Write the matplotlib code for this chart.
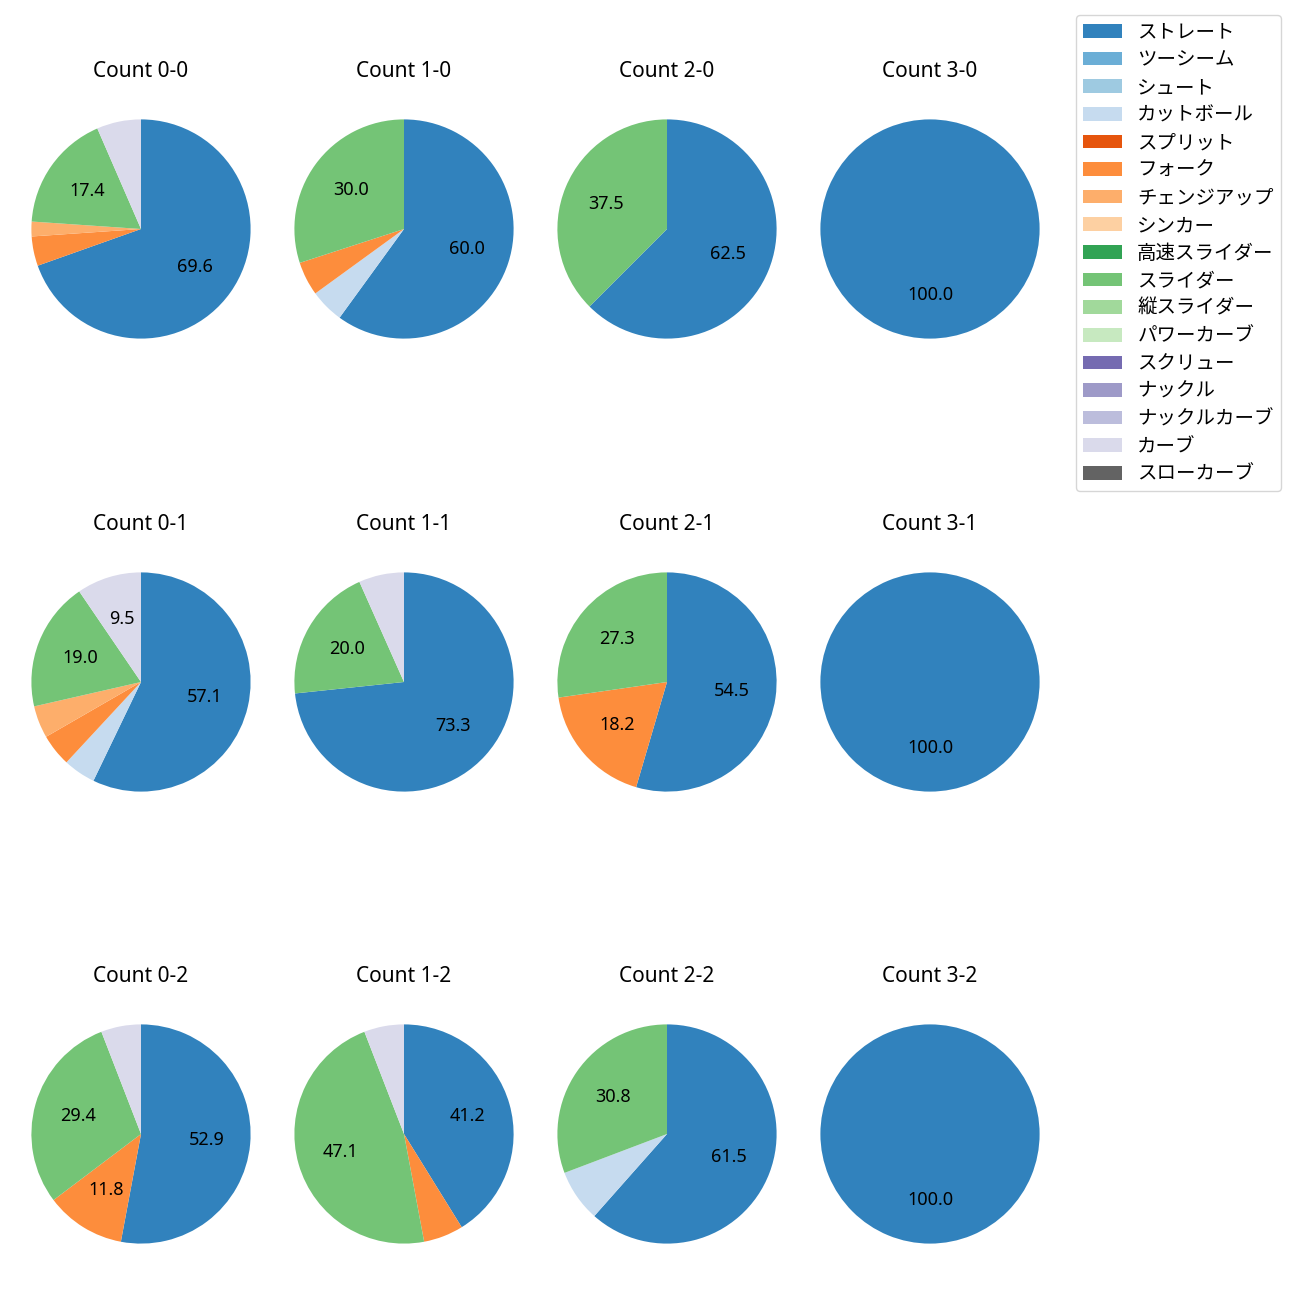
import numpy as np
import matplotlib
matplotlib.use('Agg')
import matplotlib.pyplot as plt
from matplotlib.patches import Patch

plt.rcParams['font.family'] = ['Noto Sans', 'Noto Sans CJK JP', 'DejaVu Sans']
plt.rcParams['font.size'] = 12

pitch_names = ['ストレート', 'ツーシーム', 'シュート', 'カットボール', 'スプリット', 'フォーク',
               'チェンジアップ', 'シンカー', '高速スライダー', 'スライダー', '縦スライダー',
               'パワーカーブ', 'スクリュー', 'ナックル', 'ナックルカーブ', 'カーブ', 'スローカーブ']
pitch_colors = ['#3182bd', '#6baed6', '#9ecae1', '#c6dbef', '#e6550d', '#fd8d3c',
                '#fdae6b', '#fdd0a2', '#31a354', '#74c476', '#a1d99b', '#c7e9c0',
                '#756bb1', '#9e9ac8', '#bcbddc', '#dadaeb', '#636363']

# pitch counts per ball-strike count, in legend order
#             St Tw Sh Ct Sp Fk Ch Si HS Sl VS PC Sc Kn KC Cv SC
c00 = [32, 0, 0, 0, 0, 2, 1, 0, 0, 8, 0, 0, 0, 0, 0, 3, 0]
c10 = [12, 0, 0, 1, 0, 1, 0, 0, 0, 6, 0, 0, 0, 0, 0, 0, 0]
c20 = [5, 0, 0, 0, 0, 0, 0, 0, 0, 3, 0, 0, 0, 0, 0, 0, 0]
c30 = [4, 0, 0, 0, 0, 0, 0, 0, 0, 0, 0, 0, 0, 0, 0, 0, 0]
c01 = [12, 0, 0, 1, 0, 1, 1, 0, 0, 4, 0, 0, 0, 0, 0, 2, 0]
c11 = [11, 0, 0, 0, 0, 0, 0, 0, 0, 3, 0, 0, 0, 0, 0, 1, 0]
c21 = [6, 0, 0, 0, 0, 2, 0, 0, 0, 3, 0, 0, 0, 0, 0, 0, 0]
c31 = [3, 0, 0, 0, 0, 0, 0, 0, 0, 0, 0, 0, 0, 0, 0, 0, 0]
c02 = [9, 0, 0, 0, 0, 2, 0, 0, 0, 5, 0, 0, 0, 0, 0, 1, 0]
c12 = [7, 0, 0, 0, 0, 1, 0, 0, 0, 8, 0, 0, 0, 0, 0, 1, 0]
c22 = [8, 0, 0, 1, 0, 0, 0, 0, 0, 4, 0, 0, 0, 0, 0, 0, 0]
c32 = [2, 0, 0, 0, 0, 0, 0, 0, 0, 0, 0, 0, 0, 0, 0, 0, 0]

grid = [[('0-0', c00), ('1-0', c10), ('2-0', c20), ('3-0', c30)],
        [('0-1', c01), ('1-1', c11), ('2-1', c21), ('3-1', c31)],
        [('0-2', c02), ('1-2', c12), ('2-2', c22), ('3-2', c32)]]

W, H = 1300, 1300
fig = plt.figure(figsize=(13, 13), dpi=100)

col_x = [141, 404, 667, 930]
row_y = [229, 682, 1134]
box = 274

def fmt(p):
    return '%.1f' % p if p >= 8 else ''

for r, row in enumerate(grid):
    for c, (name, vals) in enumerate(row):
        cx, cy = col_x[c], row_y[r]
        ax = fig.add_axes([(cx - box / 2) / W, 1 - (cy + box / 2) / H, box / W, box / H])
        v = np.array(vals, dtype=float)
        idx = [i for i in range(len(v)) if v[i] > 0]
        ax.pie(v[idx], colors=[pitch_colors[i] for i in idx], startangle=90,
               counterclock=False, autopct=fmt, textprops={'fontsize': 13})
        ax.set_aspect('equal')
        ax.set_title('Count ' + name, fontsize=15, pad=11)

handles = [Patch(facecolor=col) for col in pitch_colors]
fig.legend(handles, pitch_names, loc='upper left', bbox_to_anchor=(1076 / W, 1 - 15 / H),
           labelspacing=0.34, borderpad=0.35, borderaxespad=0,
           prop={'family': ['Noto Sans CJK JP', 'DejaVu Sans'], 'size': 14})

fig.savefig('out.png', dpi=100)
